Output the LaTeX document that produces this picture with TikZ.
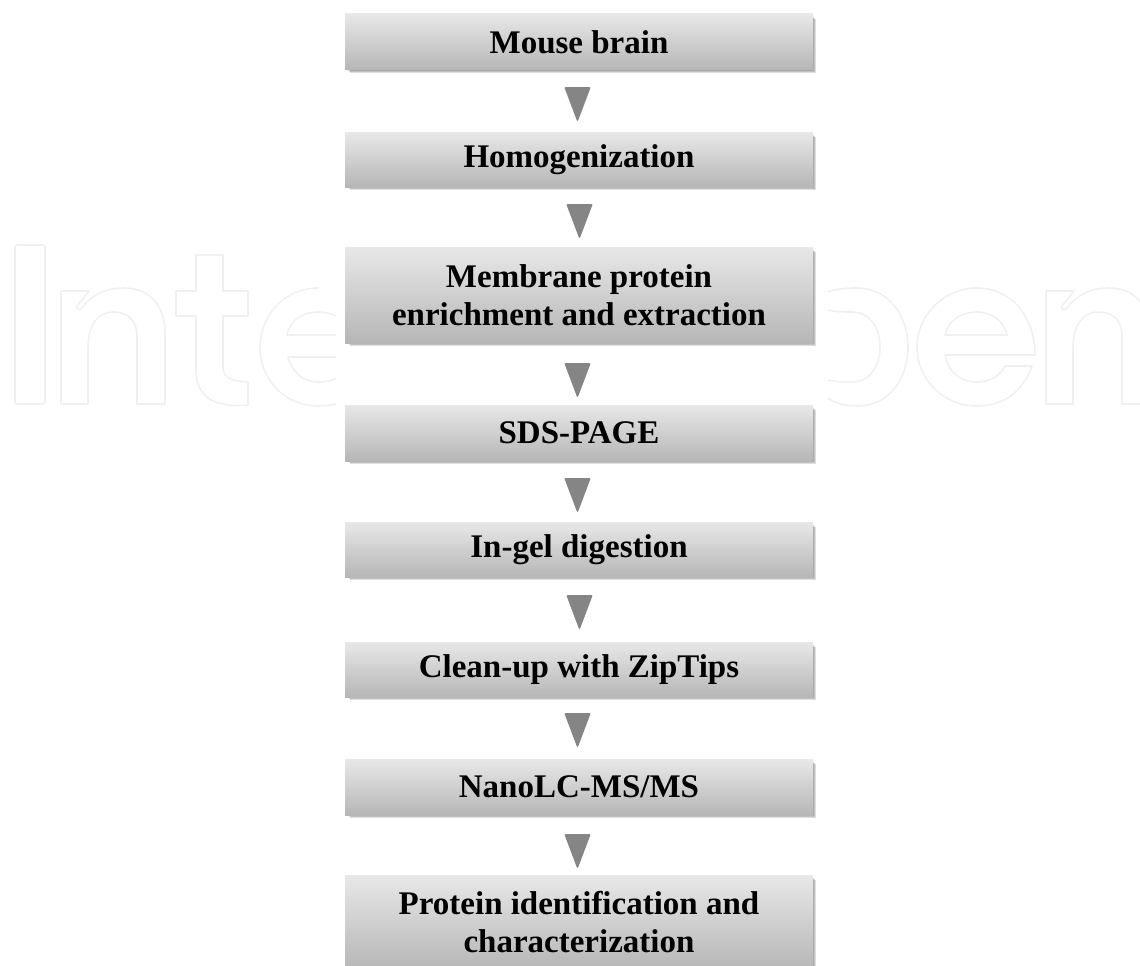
\documentclass[tikz,border=0pt]{standalone}
\usepackage{fontspec}
\setmainfont{Liberation Serif}
\usetikzlibrary{arrows.meta}
\definecolor{boxtop}{HTML}{E8E8E8}
\definecolor{boxbot}{HTML}{B6B6B6}
\definecolor{arrowgray}{HTML}{858585}
\definecolor{wm}{HTML}{EFF1F1}
\tikzset{
  stage/.style={rectangle,minimum width=468pt,inner sep=0pt,align=center,
    top color=boxtop,bottom color=boxbot,
    font=\fontsize{33}{38}\selectfont\bfseries,
    text=black},
  shadowbox/.style={fill=black,opacity=.13},
  link/.style={line width=.1pt,arrowgray,
    -{Triangle[length=35pt,width=26pt,line width=1.5pt,round]}},
  wmline/.style={draw=wm,line width=1.6pt,line join=round}
}
\begin{document}
\begin{tikzpicture}[x=1pt,y=-1pt]
\useasboundingbox (0,0) rectangle (1140,966);
% watermark
\begin{scope}[wmline]
\draw[rounded corners=2pt] (15,245) rectangle (45,404);
\def\wmn{(61,291) -- (89,291) -- (77,306) .. controls (76,309) and (78,310) .. (81,309)
  .. controls (92,295) and (105,288) .. (124,288)
  .. controls (151,288) and (165,307) .. (165,333) -- (165,404) -- (137,404) -- (137,337)
  .. controls (137,322) and (130,312) .. (113,312)
  .. controls (99,312) and (88,324) .. (88,347) -- (88,404) -- (61,404) -- cycle}
\draw \wmn;
\draw (196,255) -- (223,255) -- (223,291) -- (248,291) -- (248,316) -- (223,316) -- (223,368)
  .. controls (223,378) and (232,381) .. (248,382) -- (248,405)
  .. controls (214,408) and (196,397) .. (196,370) -- (196,316) -- (176,316) -- (176,291) -- (196,291) -- cycle;
\begin{scope}
\clip (250,280) rectangle (336,420);
\draw (318,288) .. controls (285,288) and (260,315) .. (260,347)
  .. controls (260,380) and (285,406) .. (318,406)
  .. controls (345,406) and (360,395) .. (370,360);
\draw (287,335) .. controls (290,320) and (303,312) .. (318,312) .. controls (335,312) and (345,320) .. (350,335) -- cycle;
\draw (400,357) -- (288,357) .. controls (292,372) and (303,382) .. (318,382) .. controls (335,382) and (345,375) .. (352,365);
\end{scope}
\begin{scope}
\clip (828,280) rectangle (1140,420);
\draw (828,292) .. controls (835,289) and (845,288) .. (857,288)
  .. controls (888,288) and (908,315) .. (908,347)
  .. controls (908,380) and (888,406) .. (857,406)
  .. controls (845,406) and (835,403) .. (828,398);
\draw (828,310) .. controls (835,312) and (845,312) .. (852,312)
  .. controls (870,312) and (880,328) .. (880,347)
  .. controls (880,366) and (870,382) .. (852,382)
  .. controls (845,382) and (835,382) .. (828,380);
\draw (1035,355) .. controls (1035,315) and (1010,288) .. (977,288)
  .. controls (944,288) and (917,315) .. (917,347)
  .. controls (917,380) and (944,406) .. (977,406)
  .. controls (1003,406) and (1023,392) .. (1032,366) -- (1005,366)
  .. controls (1000,376) and (990,382) .. (977,382)
  .. controls (960,382) and (948,372) .. (945,355) -- cycle;
\draw (945,335) .. controls (948,320) and (962,312) .. (976,312) .. controls (992,312) and (1003,320) .. (1007,335) -- cycle;
\begin{scope}[xshift=985pt]
\draw \wmn;
\end{scope}
\end{scope}
\end{scope}
% shadows
\foreach \t/\b in {14/70,132/187,247/343,405/461,522/577,642/697,759/815,875/970}{
  \foreach \g in {0,1,2,3}{
    \fill[shadowbox] (347+\g,\t+2+\g) rectangle (813+\g,\b+\g);
  }
}
% boxes
\node[stage,minimum height=56pt] (mouse) at (579,42) {Mouse brain};
\node[stage,minimum height=55pt] (homog) at (579,159.5) {Homogenization};
\node[stage,minimum height=96pt] (membrane) at (579,295) {Membrane protein\\enrichment and extraction};
\node[stage,minimum height=56pt] (sds) at (579,433) {SDS-PAGE};
\node[stage,minimum height=55pt] (ingel) at (579,549.5) {In-gel digestion};
\node[stage,minimum height=55pt] (cleanup) at (579,669.5) {Clean-up with ZipTips};
\node[stage,minimum height=56pt] (nano) at (579,787) {NanoLC-MS/MS};
\node[stage,minimum height=95pt] (protein) at (579,922.5) {Protein identification and\\characterization};
% connectors
\draw[link,shorten <=23pt,shorten >=11pt] ([xshift=-1.5pt]mouse.south) -- ([xshift=-1.5pt]homog.north);
\draw[link,shorten <=23pt,shorten >=9pt] ([xshift=.5pt]homog.south) -- ([xshift=.5pt]membrane.north);
\draw[link,shorten <=26pt,shorten >=8pt] ([xshift=-1.5pt]membrane.south) -- ([xshift=-1.5pt]sds.north);
\draw[link,shorten <=23pt,shorten >=10pt] ([xshift=-1.5pt]sds.south) -- ([xshift=-1.5pt]ingel.north);
\draw[link,shorten <=24pt,shorten >=13pt] ([xshift=.5pt]ingel.south) -- ([xshift=.5pt]cleanup.north);
\draw[link,shorten <=22pt,shorten >=12pt] ([xshift=-1.5pt]cleanup.south) -- ([xshift=-1.5pt]nano.north);
\draw[link,shorten <=25pt,shorten >=7pt] ([xshift=-1.5pt]nano.south) -- ([xshift=-1.5pt]protein.north);
\end{tikzpicture}
\end{document}
